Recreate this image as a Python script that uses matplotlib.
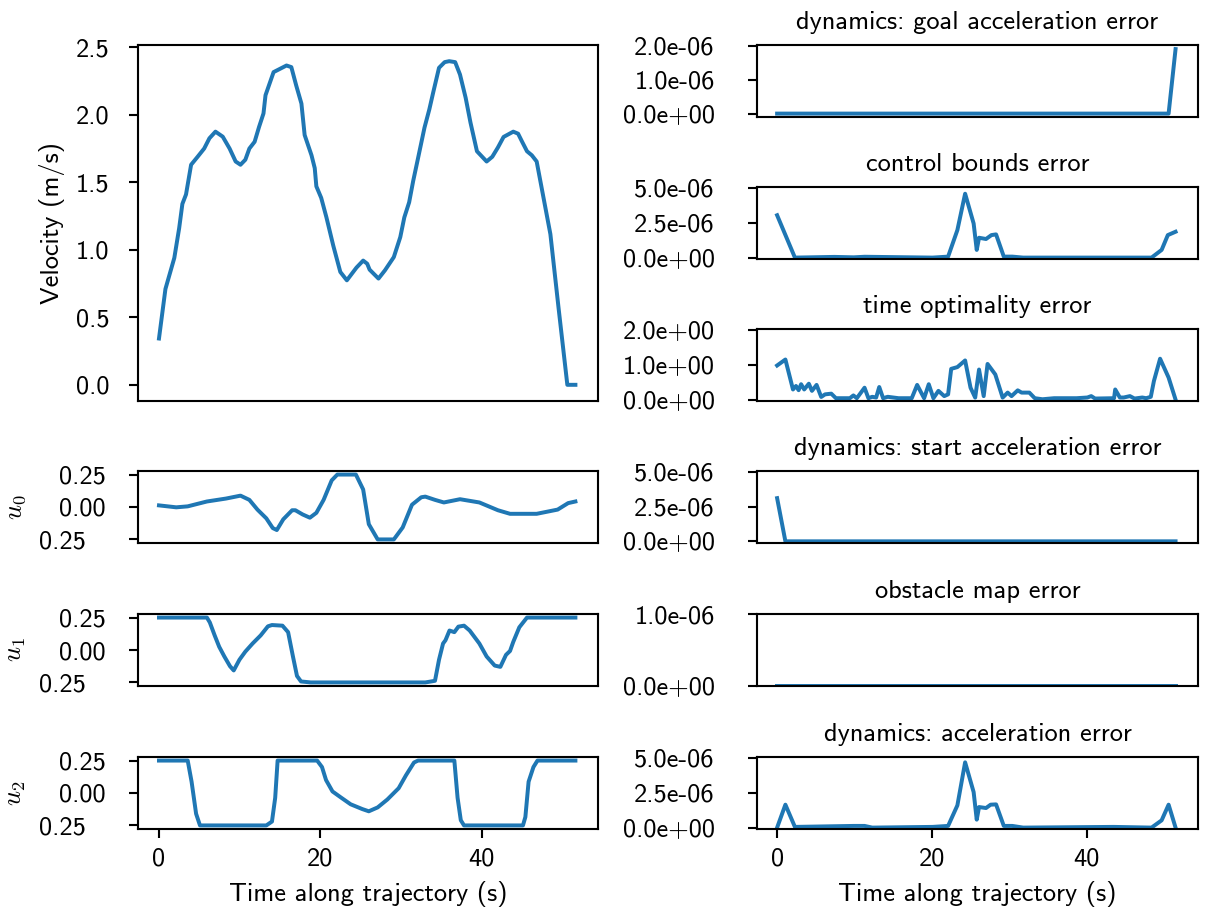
import numpy as np
import matplotlib
matplotlib.use('Agg')
import matplotlib.pyplot as plt

plt.rcParams['font.family'] = ['cmss10', 'DejaVu Sans']
plt.rcParams['mathtext.fontset'] = 'cm'
plt.rcParams['font.size'] = 10
plt.rcParams['axes.unicode_minus'] = False

# velocity profile
vel_t = [0, 0.8, 1.9, 2.5, 2.9, 3.35, 3.98, 4.8, 5.6, 6.25, 7.0, 7.9, 8.75, 9.5, 10.1, 10.7, 11.2,
         11.85, 12.4, 12.95, 13.2, 14.2, 15.8, 16.4, 17.0, 17.65, 18.05, 18.9, 19.3, 19.5, 20.1,
         20.75, 21.6, 22.47, 23.28, 24.47, 25.3, 25.8, 26.1, 27.2, 28.0, 29.1, 29.9, 30.4,
         31.0, 31.5, 32.07, 32.9, 33.5, 33.97, 34.7, 35.4, 35.96, 36.7, 37.3, 38.0, 38.6, 39.4,
         40.6, 41.3, 42.0, 42.7, 43.9, 44.5, 45.0, 45.6, 46.2, 46.8, 48.5, 49.5, 50.6, 51.6]
vel = [0.343, 0.71, 0.94, 1.16, 1.34, 1.41, 1.63, 1.69, 1.75, 1.826, 1.875, 1.838, 1.75, 1.654,
       1.63, 1.667, 1.75, 1.8, 1.91, 2.01, 2.145, 2.316, 2.365, 2.353, 2.218, 2.083, 1.85, 1.70,
       1.605, 1.47, 1.385, 1.24, 1.03, 0.836, 0.774, 0.868, 0.92, 0.897, 0.853, 0.787, 0.848,
       0.946, 1.094, 1.24, 1.352, 1.51, 1.67, 1.905, 2.04, 2.163, 2.348, 2.39, 2.397, 2.39, 2.298,
       2.126, 1.942, 1.73, 1.654, 1.689, 1.758, 1.836, 1.875, 1.86, 1.8, 1.73, 1.70, 1.654, 1.116,
       0.576, 0.0, 0.0]

# controls
u0_t = [0, 2.14, 3.56, 5.94, 8.3, 10.1, 11.2, 12.2, 13.3, 14.1, 14.6, 15.4, 16.5, 16.9, 17.8, 18.7,
        19.5, 20.4, 21.4, 22.1, 24.4, 25.3, 26.0, 27.1, 29.1, 30.2, 31.35, 32.5, 33.0, 34.2, 35.3,
        37.3, 39.7, 42.0, 43.5, 46.8, 49.4, 50.7, 51.6]
u0 = [0.0125, -0.0025, 0.005, 0.0425, 0.065, 0.0875, 0.055, -0.02, -0.0875, -0.1625, -0.1775,
      -0.095, -0.025, -0.025, -0.0575, -0.0825, -0.045, 0.055, 0.205, 0.25, 0.25, 0.135, -0.1325,
      -0.25, -0.25, -0.1575, 0.0175, 0.075, 0.08, 0.055, 0.035, 0.06, 0.035, -0.025, -0.0525,
      -0.0525, -0.02, 0.03, 0.0425]

u1_t = [0, 5.94, 6.3, 6.9, 7.46, 8.1, 8.8, 9.26, 9.97, 10.7, 11.6, 12.6, 13.5, 14.0, 15.3, 16.0,
        16.6, 17.1, 17.6, 18.8, 33.0, 34.2, 34.7, 35.2, 35.5, 36.0, 36.6, 37.1, 37.8, 38.5, 39.7,
        40.6, 41.6, 42.3, 43.0, 43.5, 43.9, 44.65, 45.6, 51.6]
u1 = [0.25, 0.25, 0.2125, 0.1125, 0.025, -0.05, -0.125, -0.1575, -0.075, -0.0125, 0.05, 0.1125,
      0.1825, 0.1925, 0.1875, 0.1375, -0.05, -0.2, -0.2425, -0.25, -0.25, -0.2375, -0.075, 0.05,
      0.075, 0.15, 0.1375, 0.18, 0.1875, 0.15, 0.05, -0.05, -0.12, -0.13, -0.0375, -0.0075, 0.0625,
      0.175, 0.25, 0.25]

u2_t = [0, 3.56, 4.04, 4.6, 5.08, 13.3, 14.0, 14.4, 14.7, 19.6, 20.2, 20.7, 21.5, 22.6, 23.75, 25.2,
        26.0, 27.1, 28.3, 29.7, 30.6, 31.6, 32.1, 36.6, 37.0, 37.4, 37.8, 45.1, 45.4, 45.8, 46.4,
        46.9, 51.6]
u2 = [0.25, 0.25, 0.087, -0.16, -0.25, -0.25, -0.22, -0.037, 0.25, 0.25, 0.2, 0.1, 0.012, -0.037,
      -0.087, -0.124, -0.141, -0.111, -0.05, 0.037, 0.136, 0.235, 0.25, 0.25, -0.037, -0.21, -0.25,
      -0.25, -0.185, 0.087, 0.2, 0.25, 0.25]

# error terms
goal_t = [0, 50.6, 51.5]
goal_err = [0, 0, 1.9e-6]

bounds_t = [0, 2.3, 7.4, 9.9, 11.3, 20.1, 22.1, 23.3, 24.3, 25.4, 25.8, 26.1, 27.0, 27.7, 28.3,
            29.3, 30.4, 31.8, 48.4, 49.7, 50.5, 51.5]
bounds_err = [3.03e-6, 0, 0.05e-6, 0.02e-6, 0.06e-6, 0, 0.07e-6, 1.97e-6, 4.57e-6, 2.44e-6,
              0.55e-6, 1.42e-6, 1.33e-6, 1.61e-6, 1.66e-6, 0.07e-6, 0.07e-6, 0, 0, 0.55e-6,
              1.61e-6, 1.85e-6]

topt_t = [0, 1.07, 2.05, 2.44, 2.78, 3.1, 3.5, 4.1, 4.5, 5.1, 5.7, 6.2, 7.0, 7.6, 9.4, 9.86, 10.3,
          11.3, 11.8, 12.3, 12.8, 13.2, 13.7, 14.3, 15.7, 17.4, 18.1, 19.0, 19.6, 20.2, 20.85, 21.6,
          22.1, 22.5, 23.3, 24.3, 25.0, 25.6, 26.1, 26.7, 27.2, 28.2, 29.15, 29.8, 30.3, 31.1, 31.6,
          32.6, 33.3, 34.3, 35.8, 38.7, 40.1, 40.6, 41.1, 43.55, 43.7, 44.3, 44.8, 45.6, 46.2, 47.2,
          47.7, 48.3, 48.7, 49.5, 50.6, 51.5]
topt_err = [0.976, 1.147, 0.29, 0.39, 0.27, 0.44, 0.29, 0.455, 0.25, 0.42, 0.076, 0.15, 0.17, 0.04,
            0.04, 0.12, 0.04, 0.34, 0.04, 0.08, 0.06, 0.36, 0.04, 0.08, 0.04, 0.04, 0.42, 0.04,
            0.44, 0.04, 0.25, 0.1, 0.15, 0.88, 0.93, 1.12, 0.34, 0.057, 0.86, 0.1, 1.02, 0.72,
            0.057, 0.2, 0.1, 0.265, 0.2, 0.2, 0.04, 0.01, 0.04, 0.04, 0.06, 0.1, 0.03, 0.04, 0.29,
            0.06, 0.06, 0.1, 0.03, 0.06, 0.04, 0.08, 0.53, 1.17, 0.63, 0.0]

start_t = [0, 1.07, 51.5]
start_err = [3.1e-6, 0, 0]

obst_t = [0, 51.5]
obst_err = [0, 0]

acc_t = [0, 1.07, 2.3, 9.9, 11.3, 12.3, 20.1, 22.1, 23.3, 24.3, 25.4, 25.8, 26.1, 27.0, 27.6, 28.3,
         29.3, 30.4, 31.8, 43.5, 48.4, 49.7, 50.6, 51.5]
acc_err = [0, 1.64e-6, 0.05e-6, 0.12e-6, 0.12e-6, 0, 0.05e-6, 0.12e-6, 1.59e-6, 4.67e-6, 2.54e-6,
           0.57e-6, 1.47e-6, 1.4e-6, 1.64e-6, 1.66e-6, 0.12e-6, 0.12e-6, 0, 0.05e-6, 0, 0.52e-6,
           1.64e-6, 0]

err_titles = ['dynamics: goal acceleration error', 'control bounds error', 'time optimality error',
              'dynamics: start acceleration error', 'obstacle map error', 'dynamics: acceleration error']
err_series = [(goal_t, goal_err), (bounds_t, bounds_err), (topt_t, topt_err),
              (start_t, start_err), (obst_t, obst_err), (acc_t, acc_err)]
err_ticks = [[0, 1e-6, 2e-6], [0, 2.5e-6, 5e-6], [0, 1.0, 2.0],
             [0, 2.5e-6, 5e-6], [0, 1e-6], [0, 2.5e-6, 5e-6]]
err_ylim = [(-0.1e-6, 2.02e-6), (-0.1e-6, 5.05e-6), (-0.04, 2.02),
            (-0.12e-6, 5.05e-6), (0, 1.0e-6), (-0.1e-6, 5.05e-6)]

W, H = 1218, 916
DPI = 190
fig = plt.figure(figsize=(W / DPI, H / DPI), dpi=DPI)
color = '#1f77b4'

row_top = [45, 187, 329, 471, 614, 757]
row_h = 72


def box(x0, x1, top, bottom):
    return [x0 / W, 1 - bottom / H, (x1 - x0) / W, (bottom - top) / H]


ax_v = fig.add_axes(box(138, 598, 45, 401))
ax_v.plot(vel_t, vel, color=color)
ax_v.set_xlim(-2.6, 54.4)
ax_v.set_xticks([])
ax_v.set_yticks([0, 0.5, 1.0, 1.5, 2.0, 2.5])
ax_v.set_yticklabels(['0.0', '0.5', '1.0', '1.5', '2.0', '2.5'])
ax_v.tick_params(axis='y', pad=7.3)
ax_v.set_ylabel('Velocity (m/s)')

ctrls = [(u0_t, u0, '$u_0$'), (u1_t, u1, '$u_1$'), (u2_t, u2, '$u_2$')]
for i, (tt, uu, lab) in enumerate(ctrls):
    top = row_top[i + 3]
    ax = fig.add_axes(box(138, 598, top, top + row_h))
    ax.plot(tt, uu, color=color)
    ax.set_xlim(-2.6, 54.4)
    ax.set_ylim(-0.2775, 0.2775)
    ax.set_yticks([-0.25, 0, 0.25])
    ax.set_yticklabels(['0.25', '0.00', '0.25'])
    ax.tick_params(axis='y', pad=8.8)
    # the negative label sits further left, as in the original
    ax.yaxis.get_major_ticks()[0].set_pad(16.3)
    ax.set_ylabel(lab)
    if i < 2:
        ax.set_xticks([])
    else:
        ax.set_xticks([0, 20, 40])
        ax.set_xlabel('Time along trajectory (s)')

for i in range(6):
    top = row_top[i]
    ax = fig.add_axes(box(757, 1198, top, top + row_h))
    tt, ee = err_series[i]
    ax.plot(tt, ee, color=color)
    ax.set_xlim(-2.6, 54.4)
    ax.set_ylim(*err_ylim[i])
    ax.set_yticks(err_ticks[i])
    ax.set_yticklabels(['%.1e' % v for v in err_ticks[i]])
    ax.tick_params(axis='y', pad=12.5)
    ax.set_title(err_titles[i], fontsize=10)
    if i < 5:
        ax.set_xticks([])
    else:
        ax.set_xticks([0, 20, 40])
        ax.set_xlabel('Time along trajectory (s)')

plt.savefig('out.png', dpi=DPI)
